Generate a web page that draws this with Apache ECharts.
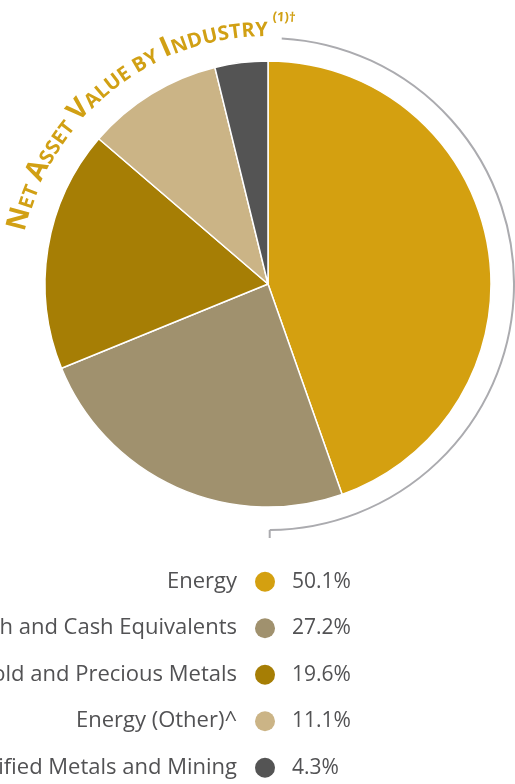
<!DOCTYPE html>
<html><head><meta charset="utf-8">
<script src="https://cdn.jsdelivr.net/npm/echarts@6/dist/echarts.min.js"></script>
<style>html,body{margin:0;padding:0;background:#fff;overflow:hidden}#c{width:515px;height:784px}</style>
</head><body><div id="c"></div>
<script>
// ---- data ----
const categories = ['Energy', 'Cash and Cash Equivalents', 'Gold and Precious Metals', 'Energy (Other)^', 'Diversified Metals and Mining'];
const values = [50.1, 27.2, 19.6, 11.1, 4.3];
const colors = ['#D4A010', '#A0916E', '#A67E05', '#CBB486', '#545454'];
const titleParts = [['N', 1], ['ET ', 0], ['A', 1], ['SSET ', 0], ['V', 1], ['ALUE BY ', 0], ['I', 1], ['NDUSTRY', 0]];
const titleSup = '(1)\u2020';

// ---- layout ----
const CX = 268, CY = 284, PIE_R = 223, R = 246;
const titleColor = '#D1A014';
const fam = 'Open Sans';
const bigFs = 28, smallFs = 20, supFs = 13, wt = 'bold';
const startDeg = -78, endDeg = 0;
const toRad = d => d * Math.PI / 180;

const ctx = document.createElement('canvas').getContext('2d');
const chars = [];
titleParts.forEach(([s, big]) => {
  for (const ch of s) {
    const fs = big ? bigFs : smallFs;
    ctx.font = wt + ' ' + fs + 'px "' + fam + '"';
    chars.push({ ch, fs, w: ctx.measureText(ch).width });
  }
});
const L = R * toRad(endDeg - startDeg);
const W = chars.reduce((a, c) => a + c.w, 0);
const sp = (L - W) / (chars.length - 1);
const graphics = [];
let p = 0;
chars.forEach(c => {
  const phi = toRad(startDeg) + (p + c.w / 2) / R;
  p += c.w + sp;
  if (c.ch === ' ') return;
  const r = R + 0.39 * c.fs;
  graphics.push({
    type: 'text', silent: true,
    x: CX + r * Math.sin(phi), y: CY - r * Math.cos(phi), rotation: -phi,
    style: { text: c.ch, fontSize: c.fs, fontFamily: fam, fontWeight: wt, fill: titleColor, align: 'center', verticalAlign: 'middle' }
  });
});
{
  const phi = toRad(1.0);
  const r = R + 16 + 0.39 * supFs;
  graphics.push({
    type: 'text', silent: true,
    x: CX + r * Math.sin(phi), y: CY - r * Math.cos(phi), rotation: -toRad(3),
    style: { text: titleSup, fontSize: supFs, fontFamily: fam, fontWeight: wt, fill: titleColor, align: 'left', verticalAlign: 'middle' }
  });
}
graphics.push({
  type: 'arc', silent: true,
  shape: { cx: CX, cy: CY, r: R, startAngle: toRad(-90 + 3.2), endAngle: toRad(90 - 0.4), clockwise: true },
  style: { stroke: '#ABABAF', lineWidth: 2, fill: null }
});
graphics.push({
  type: 'line', silent: true,
  shape: { x1: CX + 1.7, y1: CY + R, x2: CX + 1.7, y2: CY + R + 8 },
  style: { stroke: '#ABABAF', lineWidth: 2 }
});

const rowY0 = 581.7, pitch = 46.5;
const nameFs = 22, valFs = 21;
const chart = echarts.init(document.getElementById('c'), null, { renderer: 'canvas' });
chart.setOption({
  animation: false,
  color: colors,
  graphic: graphics,
  legend: [
    {
      orient: 'vertical', right: 240, top: rowY0 - nameFs / 2, height: 300, padding: 0,
      itemWidth: 46, itemHeight: 20, itemGap: pitch - nameFs, icon: 'circle', align: 'right',
      selectedMode: false, itemStyle: { borderWidth: 0 },
      textStyle: { fontFamily: fam, fontSize: nameFs, color: '#525254' }, data: categories
    },
    {
      orient: 'vertical', left: 287, top: rowY0 - valFs / 2, height: 300, padding: 0,
      itemWidth: 0, itemHeight: 20, itemGap: pitch - valFs, icon: 'rect', align: 'left',
      selectedMode: false, itemStyle: { borderWidth: 0, opacity: 0 },
      textStyle: { fontFamily: fam, fontSize: valFs, color: '#525254' }, data: categories,
      formatter: name => values[categories.indexOf(name)].toFixed(1) + '%'
    }
  ],
  series: [{
    type: 'pie', center: [CX, CY], radius: PIE_R, startAngle: 90, clockwise: true,
    label: { show: false }, labelLine: { show: false },
    emphasis: { scale: false },
    itemStyle: { borderColor: '#ffffff', borderWidth: 1.5 },
    data: categories.map((n, i) => ({ name: n, value: values[i] }))
  }]
});
</script>
</body></html>
